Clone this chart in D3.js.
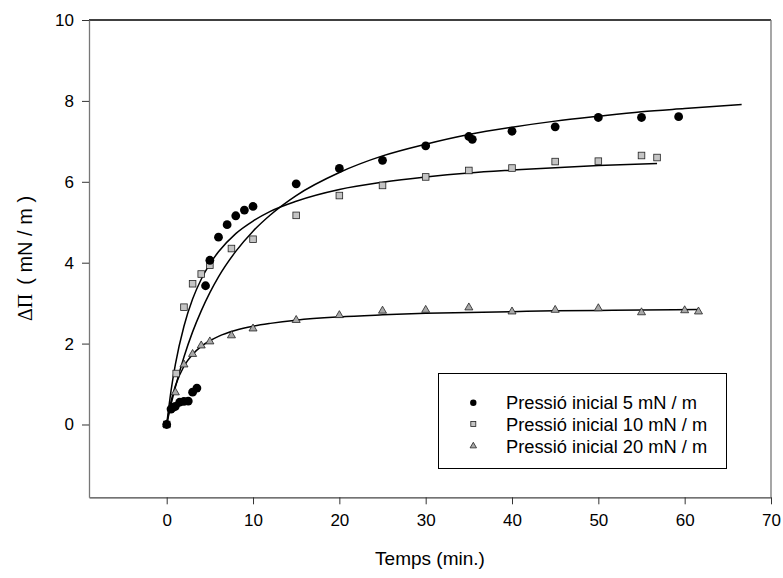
<!DOCTYPE html>
<html>
<head>
<meta charset="utf-8">
<script src="https://cdn.jsdelivr.net/npm/d3@7"></script>
<style>
  body { margin: 0; background: #fff; }
  svg text { font-family: "Liberation Sans", Arial, sans-serif; fill: #000; }
</style>
</head>
<body>
<div id="main-diagram"></div>
<script>
// measured points, [time (min), delta Pi (mN/m)]
const points5 = [[0,0],[0.5,0.38],[0.75,0.42],[1,0.45],[1.5,0.55],[2,0.57],[2.5,0.58],[3,0.8],[3.5,0.9],
  [4.5,3.43],[5,4.06],[6,4.63],[7,4.94],[8,5.16],[9,5.3],[10,5.39],[15,5.95],[20,6.33],[25,6.53],
  [30,6.89],[35,7.12],[35.4,7.05],[40,7.25],[45,7.36],[50,7.59],[55,7.59],[59.3,7.61]]
const points10 = [[0,0],[1.1,1.26],[2,2.9],[3,3.48],[4,3.72],[5,3.94],[7.5,4.35],[10,4.58],[15,5.17],
  [20,5.66],[25,5.91],[30,6.12],[35,6.28],[40,6.34],[45,6.5],[50,6.51],[55,6.65],[56.8,6.6]]
const points20 = [[0,0],[1,0.79],[2,1.48],[3,1.74],[4,1.95],[5,2.05],[7.5,2.2],[10,2.37],[15,2.58],
  [20,2.7],[25,2.81],[30,2.83],[35,2.89],[40,2.79],[45,2.83],[50,2.87],[55,2.77],[60,2.82],[61.6,2.79]]

// fitted curves
const fit5 = [[0,0],[0.5,0.49],[1,0.92],[2,1.67],[3,2.29],[4,2.81],[5,3.26],[6,3.65],[8,4.28],[10,4.78],
  [12,5.18],[15,5.66],[20,6.23],[25,6.64],[30,6.93],[35,7.17],[40,7.35],[45,7.5],[50,7.62],[55,7.73],
  [60,7.81],[66.6,7.91]]
const fit10 = [[0,0],[0.5,0.83],[1,1.48],[2,2.43],[3,3.1],[4,3.59],[5,3.97],[6,4.27],[8,4.72],[10,5.03],
  [12,5.27],[15,5.52],[20,5.81],[25,5.99],[30,6.12],[35,6.22],[40,6.29],[45,6.35],[50,6.4],[56.8,6.45]]
const fit20 = [[0,0],[0.5,0.57],[1,0.95],[2,1.44],[3,1.73],[4,1.93],[5,2.07],[6,2.18],[8,2.33],[10,2.43],
  [12,2.5],[15,2.58],[20,2.66],[25,2.71],[30,2.75],[35,2.77],[40,2.79],[45,2.81],[50,2.82],[55,2.83],
  [61.6,2.84]]

const xTicks = [0, 10, 20, 30, 40, 50, 60, 70]
const yTicks = [0, 2, 4, 6, 8, 10]
const legendLabels = ['Pressió inicial 5 mN / m', 'Pressió inicial 10 mN / m', 'Pressió inicial 20 mN / m']

const width = 783
const height = 578
const plot = { left: 89, right: 771, top: 20, bottom: 497.3 }

const svg = d3.select('#main-diagram')
    .append('svg')
    .attr('width', width)
    .attr('height', height)

const x = d3.scaleLinear().domain([-9, 70]).range([plot.left, plot.right])
const y = d3.scaleLinear().domain([-1.8, 10]).range([plot.bottom, plot.top])

// frame
svg.append('line').attr('x1', plot.left).attr('x2', plot.right).attr('y1', plot.top).attr('y2', plot.top)
    .attr('stroke', '#000').attr('stroke-width', 1.3)
svg.append('line').attr('x1', plot.right).attr('x2', plot.right).attr('y1', plot.top).attr('y2', plot.bottom)
    .attr('stroke', '#777').attr('stroke-width', 1.3)

// axes
const xAxis = svg.append('g')
    .attr('transform', `translate(0, ${plot.bottom})`)
    .call(d3.axisBottom(x).tickValues(xTicks).tickSize(7).tickSizeOuter(0).tickPadding(10))
xAxis.select('.domain').attr('stroke', '#444').attr('stroke-width', 1.3)
xAxis.selectAll('.tick line').attr('stroke', '#333')
xAxis.selectAll('text').attr('font-size', 17).attr('font-family', '"Liberation Sans", Arial, sans-serif')

const yAxis = svg.append('g')
    .attr('transform', `translate(${plot.left}, 0)`)
    .call(d3.axisLeft(y).tickValues(yTicks).tickSize(7).tickSizeOuter(0).tickPadding(8))
yAxis.select('.domain').attr('stroke', '#777').attr('stroke-width', 1.3)
yAxis.selectAll('.tick line').attr('stroke', '#333')
yAxis.selectAll('text').attr('font-size', 17).attr('font-family', '"Liberation Sans", Arial, sans-serif')

// axis titles
svg.append('text')
    .attr('x', x(30.5))
    .attr('y', 565)
    .attr('text-anchor', 'middle')
    .attr('font-size', 19)
    .text('Temps (min.)')

const yTitle = svg.append('text')
    .attr('transform', `translate(31.5, 258.5) rotate(-90)`)
    .attr('text-anchor', 'middle')
    .attr('font-size', 20)
yTitle.append('tspan').attr('font-family', '"Liberation Serif", "Times New Roman", serif').text('ΔΠ')
yTitle.append('tspan').attr('dx', 9).text('( mN / m )')

// fitted lines
const line = d3.line().x(d => x(d[0])).y(d => y(d[1])).curve(d3.curveMonotoneX)
const fits = [fit5, fit10, fit20]
svg.selectAll('path.fit')
    .data(fits)
    .enter()
    .append('path')
    .attr('class', 'fit')
    .attr('d', line)
    .attr('fill', 'none')
    .attr('stroke', '#000')
    .attr('stroke-width', 1.5)

// markers
const tri = d3.symbol().type(d3.symbolTriangle).size(28)

svg.selectAll('path.p20')
    .data(points20)
    .enter()
    .append('path')
    .attr('class', 'p20')
    .attr('d', tri)
    .attr('transform', d => `translate(${x(d[0])}, ${y(d[1])})`)
    .attr('fill', '#a8a8a8')
    .attr('stroke', '#222')
    .attr('stroke-width', 0.8)

svg.selectAll('rect.p10')
    .data(points10)
    .enter()
    .append('rect')
    .attr('class', 'p10')
    .attr('x', d => x(d[0]) - 3.3)
    .attr('y', d => y(d[1]) - 3.3)
    .attr('width', 6.6)
    .attr('height', 6.6)
    .attr('fill', '#c4c4c4')
    .attr('stroke', '#222')
    .attr('stroke-width', 0.8)

svg.selectAll('circle.p5')
    .data(points5)
    .enter()
    .append('circle')
    .attr('class', 'p5')
    .attr('cx', d => x(d[0]))
    .attr('cy', d => y(d[1]))
    .attr('r', 4.4)
    .attr('fill', '#000')

// legend
const legend = svg.append('g')
svg.append('rect')
    .attr('x', 438.5).attr('y', 373.5)
    .attr('width', 288).attr('height', 95)
    .attr('fill', 'none').attr('stroke', '#000').attr('stroke-width', 1)

const rowY = [402.7, 424, 446]
legend.append('circle').attr('cx', 473.3).attr('cy', rowY[0]).attr('r', 3.2).attr('fill', '#000')
legend.append('rect').attr('x', 470.8).attr('y', rowY[1] - 2.5).attr('width', 5).attr('height', 5)
    .attr('fill', '#c4c4c4').attr('stroke', '#222').attr('stroke-width', 0.8)
legend.append('path').attr('d', d3.symbol().type(d3.symbolTriangle).size(18))
    .attr('transform', `translate(473.3, ${rowY[2]})`)
    .attr('fill', '#a8a8a8').attr('stroke', '#222').attr('stroke-width', 0.8)

legend.selectAll('text')
    .data(legendLabels)
    .enter()
    .append('text')
    .attr('x', 506)
    .attr('y', (d, i) => rowY[i] + 6.5)
    .attr('font-size', 18.3)
    .text(d => d)
</script>
</body>
</html>
